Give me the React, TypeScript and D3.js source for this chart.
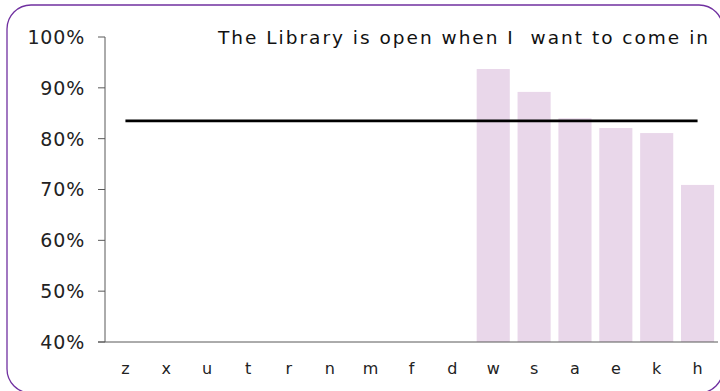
import React from "react";
import * as d3 from "d3";

const categories = ["z", "x", "u", "t", "r", "n", "m", "f", "d", "w", "s", "a", "e", "k", "h"];
const barValues: (number | null)[] = [null, null, null, null, null, null, null, null, null, 0.937, 0.892, 0.84, 0.821, 0.811, 0.709];
const targetValue = 0.835;
const yTicks = [0.4, 0.5, 0.6, 0.7, 0.8, 0.9, 1.0];
const title = "The Library is open when I  want to come in";

const W = 720;
const H = 391;
const margin = { left: 105, right: 2, top: 37, bottom: 49 };
const font = "'DejaVu Sans', 'Liberation Sans', Arial, sans-serif";

export default function App() {
  const x = d3
    .scaleBand<string>()
    .domain(categories)
    .range([margin.left, W - margin.right])
    .paddingInner(0.19)
    .paddingOuter(0.095);
  const xc = d3.scalePoint<string>().domain(categories).range([margin.left, W - margin.right]).padding(0.5);
  const y = d3.scaleLinear().domain([0.4, 1.0]).range([H - margin.bottom, margin.top]);
  const fmt = d3.format(".0%");

  const lineGen = d3
    .line<string>()
    .x((c) => xc(c) as number)
    .y(() => y(targetValue));

  return (
    <svg
      width={W}
      height={H}
      style={{ position: "absolute", left: 0, top: 0, background: "#fff" }}
      fontFamily={font}
    >
      <rect x={7} y={5} width={716} height={388} rx={24} ry={24} fill="#fff" stroke="#7030A0" strokeWidth={1.3} />
      {categories.map((c, i) =>
        barValues[i] == null ? null : (
          <rect
            key={c}
            x={x(c)}
            y={y(barValues[i] as number)}
            width={x.bandwidth()}
            height={y(0.4) - y(barValues[i] as number)}
            fill="#E9D7EA"
          />
        )
      )}
      <path d={lineGen(categories) || ""} fill="none" stroke="#000" strokeWidth={2.6} />
      {/* axes */}
      <line x1={margin.left} x2={margin.left} y1={y(1.0)} y2={y(0.4)} stroke="#595959" strokeWidth={1} />
      <line x1={margin.left - 7} x2={W - margin.right} y1={y(0.4)} y2={y(0.4)} stroke="#595959" strokeWidth={1} />
      {yTicks.map((t) => (
        <g key={t}>
          <line x1={margin.left - 7} x2={margin.left} y1={y(t)} y2={y(t)} stroke="#595959" strokeWidth={1} />
          <text x={85} y={y(t)} dy="0.36em" textAnchor="end" fontSize={19} letterSpacing={0.8} fill="#222">
            {fmt(t)}
          </text>
        </g>
      ))}
      {categories.map((c) => (
        <text key={c} x={xc(c)} y={374} textAnchor="middle" fontSize={16} fill="#222">
          {c}
        </text>
      ))}
      <text
        x={218}
        y={44}
        fontSize={18.5}
        fill="#111"
        textLength={490}
        lengthAdjust="spacing"
        style={{ whiteSpace: "pre" }}
      >
        {title}
      </text>
    </svg>
  );
}
